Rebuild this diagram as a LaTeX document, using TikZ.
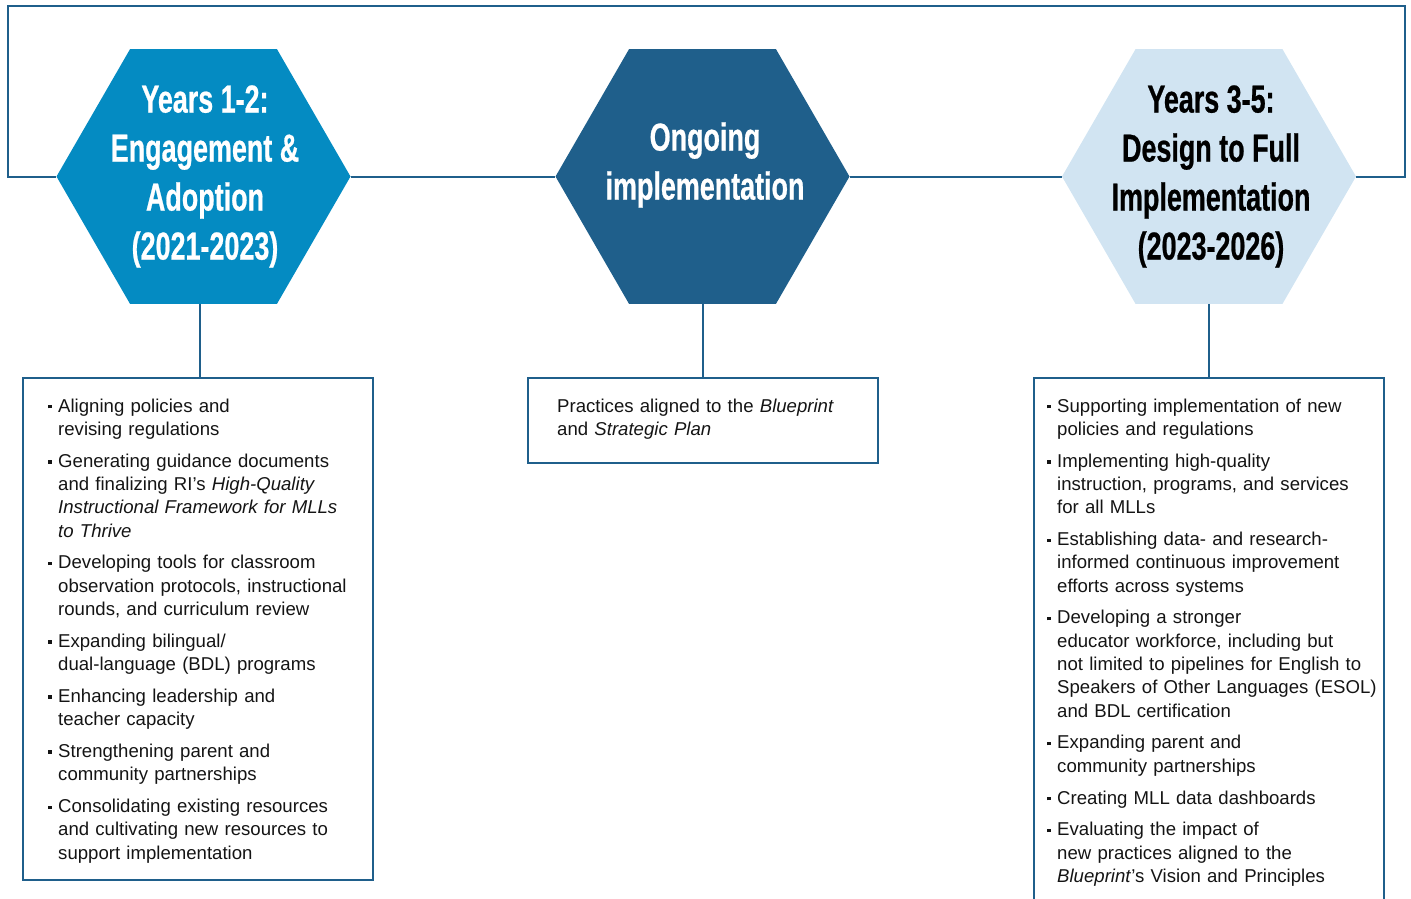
\documentclass[tikz,border=0pt]{standalone}
\usepackage{fontspec}
\setmainfont{Liberation Sans}
\newfontfamily\hexfont[FakeStretch=0.69,FakeBold=0.6]{Liberation Sans}
\usetikzlibrary{shapes.geometric}
\definecolor{hexA}{RGB}{4,139,194}
\definecolor{hexB}{RGB}{31,95,139}
\definecolor{hexC}{RGB}{209,228,242}
\definecolor{lineblue}{RGB}{31,95,139}
\definecolor{txt}{RGB}{20,20,20}
\newenvironment{blist}{\begin{list}{\rule[3.6pt]{3.4pt}{3.4pt}}{%
  \setlength{\leftmargin}{10pt}\setlength{\labelwidth}{3.4pt}%
  \setlength{\labelsep}{6.4pt}\setlength{\itemsep}{8.5pt}%
  \setlength{\parsep}{0pt}\setlength{\topsep}{0pt}%
  \setlength{\partopsep}{0pt}\setlength{\itemindent}{0pt}}}{\end{list}}
\begin{document}
\begin{tikzpicture}[x=1pt,y=-1pt,
  hexshape/.style={regular polygon, regular polygon sides=6, minimum size=294pt, inner sep=0pt, outer sep=0pt},
  hextext/.style={font=\hexfont\bfseries\fontsize{39}{49}\selectfont, align=center, inner sep=0pt},
  frame/.style={draw=lineblue, line width=2pt},
  boxstyle/.style={draw=lineblue, line width=2pt, rectangle, inner sep=0pt, anchor=north west},
  bodytext/.style={font=\fontsize{18.6}{23.3}\selectfont, text=txt, text width=400pt, inner sep=0pt, anchor=north west, align=left}
]
\useasboundingbox (0,0) rectangle (1411,898);
\clip (0,0) rectangle (1411,898);

% hexagons
\node[hexshape, fill=hexA] (h1) at (203.5,176.5) {};
\node[hexshape, fill=hexB] (h2) at (702.5,176.5) {};
\node[hexshape, fill=hexC] (h3) at (1209,176.5) {};

\node[hextext, text=white] (t1) at (205,176.5) {Years 1-2:\\Engagement \&\\Adoption\\(2021-2023)};
\node[hextext, text=white] (t2) at (705,165) {Ongoing\\implementation};
\node[hextext, text=black] (t3) at (1211,176.5) {Years 3-5:\\Design to Full\\Implementation\\(2023-2026)};

% boxes
\node[boxstyle, minimum width=350pt, minimum height=502pt] (lbox) at (22,377) {};
\node[boxstyle, minimum width=350pt, minimum height=85pt] (mbox) at (527,377) {};
\node[boxstyle, minimum width=350pt, minimum height=560pt] (rbox) at (1033,377) {};

% frame and connectors
\coordinate (tl) at (8,6);
\coordinate (tr) at (1405,6);
\draw[frame] (h1.west) -| (tl) -- (tr) |- (h3.east);
\draw[frame] (h1.east) -- (h2.west);
\draw[frame] (h2.east) -- (h3.west);
\draw[frame] ([xshift=-4pt]h1.south) -- ([xshift=-4pt]h1.south |- lbox.north);
\draw[frame] (h2.south) -- (h2.south |- mbox.north);
\draw[frame] (h3.south) -- (h3.south |- rbox.north);

% texts
\node[bodytext] (ltxt) at (48,388.5) {\begin{blist}
\item Aligning policies and\\revising regulations
\item Generating guidance documents\\and finalizing RI’s \textit{High-Quality}\\\textit{Instructional Framework for MLLs}\\\textit{to Thrive}
\item Developing tools for classroom\\observation protocols, instructional\\rounds, and curriculum review
\item Expanding bilingual/\\dual-language (BDL) programs
\item Enhancing leadership and\\teacher capacity
\item Strengthening parent and\\community partnerships
\item Consolidating existing resources\\and cultivating new resources to\\support implementation
\end{blist}};

\node[bodytext] (mtxt) at (557,398.5) {Practices aligned to the \textit{Blueprint}\\and \textit{Strategic Plan}};

\node[bodytext] (rtxt) at (1047,388.5) {\begin{blist}
\item Supporting implementation of new\\policies and regulations
\item Implementing high-quality\\instruction, programs, and services\\for all MLLs
\item Establishing data- and research-\\informed continuous improvement\\efforts across systems
\item Developing a stronger\\educator workforce, including but\\not limited to pipelines for English to\\Speakers of Other Languages (ESOL)\\and BDL certification
\item Expanding parent and\\community partnerships
\item Creating MLL data dashboards
\item Evaluating the impact of\\new practices aligned to the\\\textit{Blueprint}’s Vision and Principles
\end{blist}};
\end{tikzpicture}
\end{document}
